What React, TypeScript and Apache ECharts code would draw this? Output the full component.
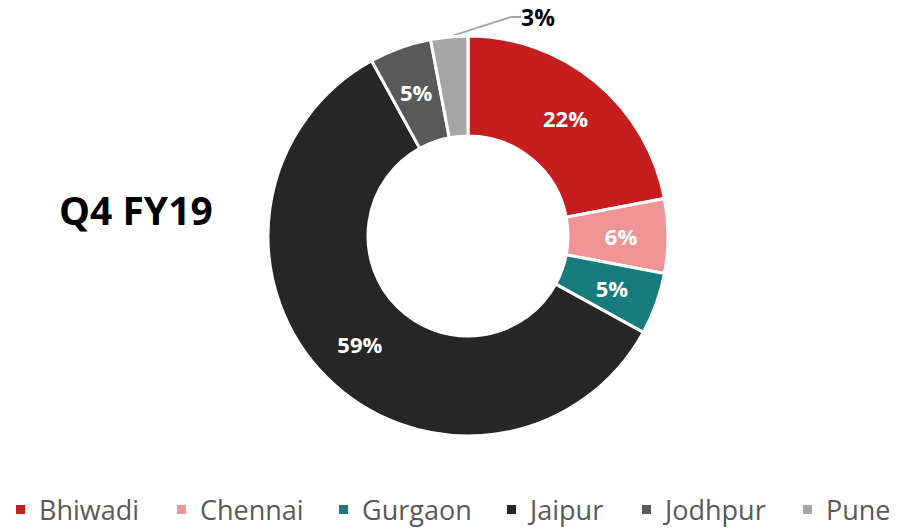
import React, { useEffect, useRef } from "react";
import * as echarts from "echarts";

const categories = ["Bhiwadi", "Chennai", "Gurgaon", "Jaipur", "Jodhpur", "Pune"];
const values = [22, 6, 5, 59, 5, 3];
const colors = ["#C61D1F", "#F09595", "#167C7C", "#262626", "#595959", "#A6A6A6"];
const titleText = "Q4 FY19";
// legend item left offsets (layout only)
const legendLefts = [14, 175, 337, 505, 640, 801];

export default function App() {
  const ref = useRef<HTMLDivElement>(null);
  useEffect(() => {
    if (!ref.current) return;
    const chart = echarts.init(ref.current, null, { renderer: "svg" });
    const font = "'Open Sans', 'Noto Sans', sans-serif";
    chart.setOption({
      animation: false,
      backgroundColor: "#ffffff",
      color: colors,
      title: {
        text: titleText,
        left: 54,
        top: 185,
        textStyle: { fontFamily: font, fontSize: 39, fontWeight: "bold", color: "#000000", letterSpacing: 0.5 },
      },
      legend: categories.map((c, i) => ({
        top: 496,
        left: legendLefts[i],
        padding: 0,
        itemWidth: 11,
        itemHeight: 11,
        icon: "rect",
        data: [c],
        textStyle: {
          fontFamily: font,
          fontSize: 27,
          color: "#595959",
          padding: [0, 0, 0, 8],
        },
      })),
      series: [
        {
          type: "pie",
          center: [468, 236],
          radius: [100, 200],
          startAngle: 90,
          clockwise: true,
          itemStyle: { borderColor: "#ffffff", borderWidth: 3 },
          label: {
            show: true,
            position: "inside",
            formatter: "{c}%",
            color: "#ffffff",
            fontFamily: font,
            fontWeight: "bold",
            fontSize: 22,
          },
          labelLine: { show: false },
          labelLayout: (params: any) => {
            if (params.dataIndex === 5) {
              return { x: 521, y: 17, align: "left", verticalAlign: "middle" };
            }
            return {};
          },
          data: categories.map((c, i) => {
            const item: any = { name: c, value: values[i] };
            if (i === 5) {
              item.label = {
                position: "outside",
                color: "#000000",
                fontSize: 23,
              };
              item.labelLine = {
                show: true,
                length: 20,
                length2: 10,
                lineStyle: { color: "#A6A6A6", width: 2 },
              };
            }
            return item;
          }),
        },
      ],
    });
    return () => chart.dispose();
  }, []);
  return (
    <div
      ref={ref}
      style={{ position: "fixed", left: 0, top: 0, width: 909, height: 529 }}
    />
  );
}
